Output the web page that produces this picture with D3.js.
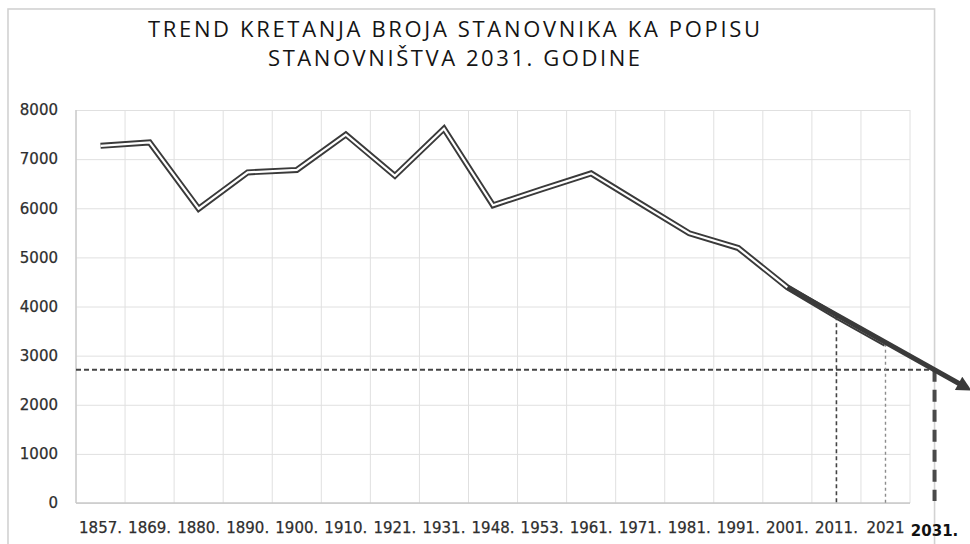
<!DOCTYPE html>
<html>
<head>
<meta charset="utf-8">
<script src="https://cdn.jsdelivr.net/npm/d3@7/dist/d3.min.js"></script>
<style>
  html, body { margin: 0; padding: 0; background: #fff; }
  svg { display: block; }
</style>
</head>
<body>
<script>
// ---- data ----
const categories = ["1857.","1869.","1880.","1890.","1900.","1910.","1921.","1931.","1948.","1953.",
                    "1961.","1971.","1981.","1991.","2001.","2011.","2021","2031."];
const population = [7270,7340,5990,6730,6780,7500,6660,7620,6060,6390,
                    6710,6100,5490,5190,4390,3800,3240];
const projectionYear = "2031.";
const projectionValue = 2710;
const trendStartYear = "2001.";
const guideYears = ["2011.","2021"];
const yTicks = [0,1000,2000,3000,4000,5000,6000,7000,8000];
const titleLines = ["TREND KRETANJA BROJA STANOVNIKA KA POPISU", "STANOVNIŠTVA 2031. GODINE"];

// ---- layout ----
const W = 970, H = 544;
const plotLeft = 76, bandW = 49.06, plotTop = 110, plotBottom = 503;
const nObserved = population.length;

const svg = d3.select("body").append("svg").attr("width", W).attr("height", H);

const x = d3.scaleBand().domain(categories).range([plotLeft, plotLeft + bandW * categories.length]).padding(0);
const xc = c => x(c) + x.bandwidth() / 2;
const plotRight = x(categories[nObserved - 1]) + x.bandwidth();
const y = d3.scaleLinear().domain([0, 8000]).range([plotBottom, plotTop]);

// frame
svg.append("rect").attr("x", 8).attr("y", 9).attr("width", xc(projectionYear) - 8).attr("height", 600)
  .attr("fill", "none").attr("stroke", "#d2d2d2").attr("stroke-width", 1.6);

// title
titleLines.forEach((t, i) => {
  svg.append("text").attr("x", 454).attr("y", 37 + i * 29)
    .attr("text-anchor", "middle")
    .attr("font-family", "'Liberation Sans Narrow', 'Open Sans', sans-serif")
    .attr("font-size", 22).attr("fill", "#151515")
    .attr("textLength", i === 0 ? 612 : 372).attr("lengthAdjust", "spacing")
    .text(t);
});

// horizontal gridlines + y labels
const gy = svg.append("g").attr("transform", `translate(${plotLeft},0)`)
  .call(d3.axisLeft(y).tickValues(yTicks).tickSize(-(plotRight - plotLeft)).tickPadding(18).tickFormat(d3.format("d")));
gy.select(".domain").remove();
gy.selectAll(".tick line").attr("stroke", "#e0e0e0").attr("stroke-width", 1);
gy.selectAll(".tick text").attr("font-family", "'DejaVu Sans', sans-serif").attr("font-size", 15)
  .attr("fill", "#2e2e2e").attr("stroke", "#2e2e2e").attr("stroke-width", 0.25);

// vertical gridlines
const vlines = categories.slice(0, nObserved).map(c => x(c)).concat([plotRight]);
svg.append("g").selectAll("line").data(vlines).join("line")
  .attr("x1", d => d).attr("x2", d => d).attr("y1", plotTop).attr("y2", plotBottom)
  .attr("stroke", "#e0e0e0").attr("stroke-width", 1);

// axis lines
svg.append("line").attr("x1", plotLeft).attr("x2", plotLeft).attr("y1", plotTop).attr("y2", plotBottom).attr("stroke", "#c8c8c8").attr("stroke-width", 1.3);
svg.append("line").attr("x1", plotLeft).attr("x2", plotRight).attr("y1", plotBottom).attr("y2", plotBottom).attr("stroke", "#c8c8c8").attr("stroke-width", 1.3);

// x labels
const gx = svg.append("g").attr("transform", `translate(0,${plotBottom})`)
  .call(d3.axisBottom(x).tickSize(0).tickPadding(19));
gx.select(".domain").remove();
gx.selectAll(".tick text").attr("font-family", "'DejaVu Sans', sans-serif").attr("font-size", 15)
  .attr("fill", "#2e2e2e").attr("stroke", "#2e2e2e").attr("stroke-width", 0.25);
gx.selectAll(".tick").filter(d => d === projectionYear).select("text")
  .attr("font-weight", "bold").attr("fill", "#111").attr("stroke", "none").attr("dy", "0.9em");

// population line (double line)
const pts = population.map((v, i) => [xc(categories[i]), y(v)]);
const line = d3.line();
svg.append("path").attr("d", line(pts)).attr("fill", "none").attr("stroke", "#3a3a3a")
  .attr("stroke-width", 6).attr("stroke-linejoin", "miter");
svg.append("path").attr("d", line(pts)).attr("fill", "none").attr("stroke", "#fff")
  .attr("stroke-width", 2.2).attr("stroke-linejoin", "miter");

// dashed guides
svg.append("line").attr("x1", plotLeft).attr("x2", xc(projectionYear))
  .attr("y1", y(projectionValue)).attr("y2", y(projectionValue))
  .attr("stroke", "#444").attr("stroke-width", 2).attr("stroke-dasharray", "5,3");
const guideStyles = [{c: "#444", w: 1.6, d: "4,3"}, {c: "#8c8c8c", w: 1.4, d: "3,3"}];
guideYears.forEach((yr, i) => {
  const v = population[categories.indexOf(yr)];
  svg.append("line").attr("x1", xc(yr)).attr("x2", xc(yr)).attr("y1", y(v)).attr("y2", y(0))
    .attr("stroke", guideStyles[i].c).attr("stroke-width", guideStyles[i].w).attr("stroke-dasharray", guideStyles[i].d);
});
svg.append("line").attr("x1", xc(projectionYear)).attr("x2", xc(projectionYear))
  .attr("y1", y(projectionValue)).attr("y2", y(0) - 2)
  .attr("stroke", "#4a4a4a").attr("stroke-width", 4).attr("stroke-dasharray", "12,8");

// trend arrow from 2001 through the 2031 projection
const sx = xc(trendStartYear), sy = y(population[categories.indexOf(trendStartYear)]);
const px = xc(projectionYear), py = y(projectionValue);
const ext = 1.19;
const ex = sx + (px - sx) * ext, ey = sy + (py - sy) * ext;
svg.append("defs").append("marker").attr("id", "ah").attr("viewBox", "0 0 10 10")
  .attr("refX", 3).attr("refY", 5).attr("markerWidth", 3.4).attr("markerHeight", 3.0)
  .attr("orient", "auto").append("path").attr("d", "M0,0 L10,5 L0,10 z").attr("fill", "#3a3a3a");
svg.append("line").attr("x1", sx).attr("y1", sy).attr("x2", ex).attr("y2", ey)
  .attr("stroke", "#3a3a3a").attr("stroke-width", 5).attr("marker-end", "url(#ah)");
</script>
</body>
</html>
